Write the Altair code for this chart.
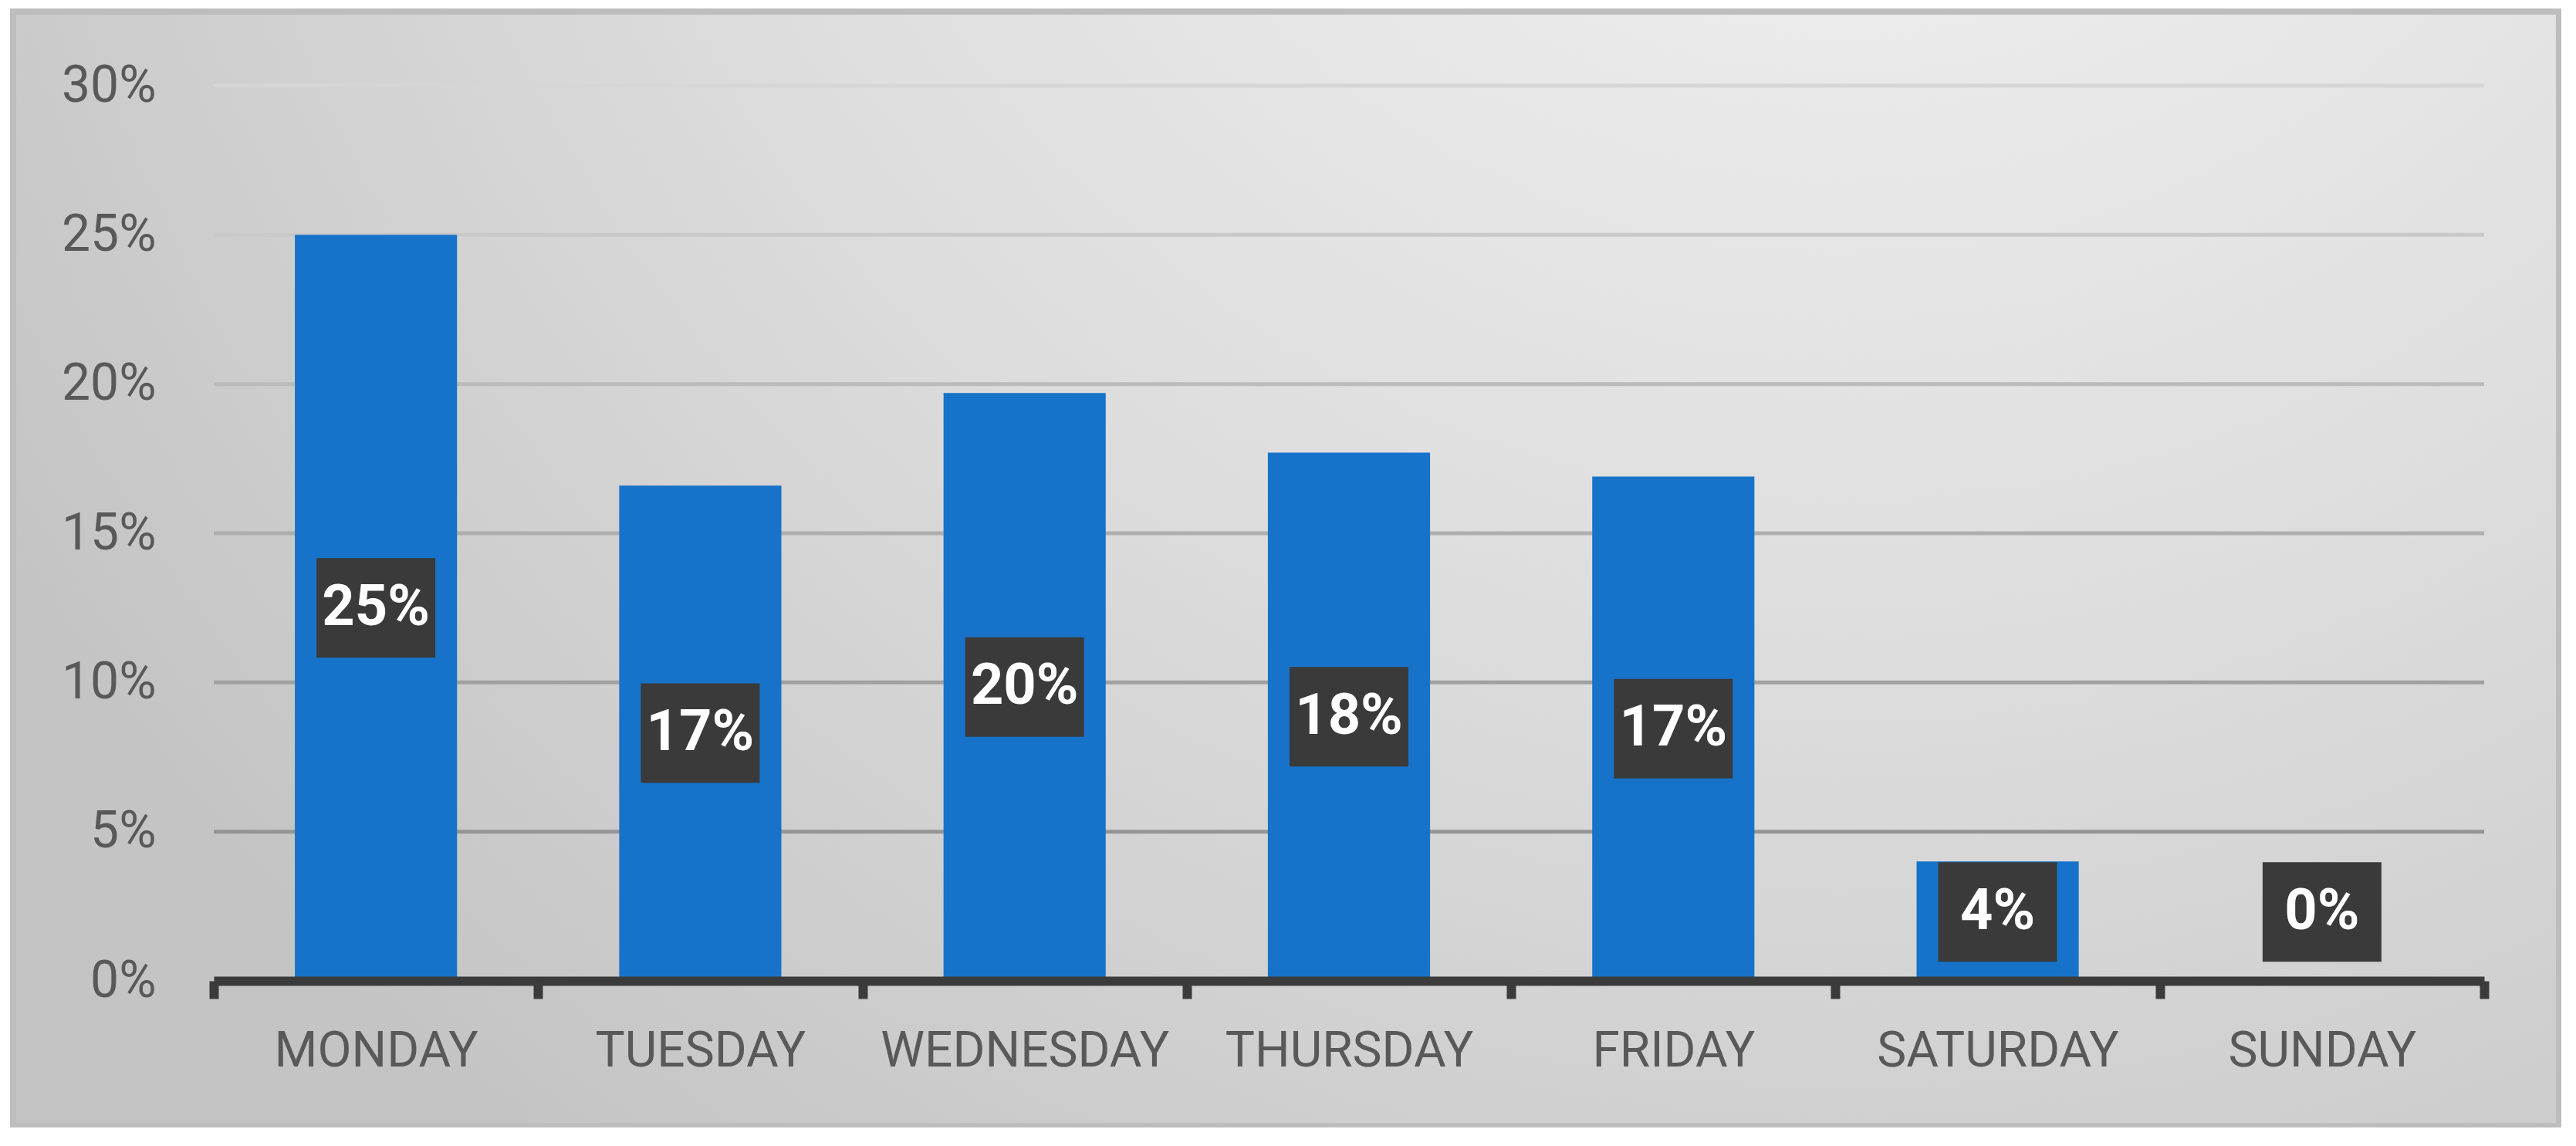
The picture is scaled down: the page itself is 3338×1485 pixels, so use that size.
import altair as alt
import pandas as pd

days = ["MONDAY", "TUESDAY", "WEDNESDAY", "THURSDAY", "FRIDAY", "SATURDAY", "SUNDAY"]
shares = [0.250, 0.166, 0.197, 0.177, 0.169, 0.040, 0.000]
tick_values = [0.0, 0.05, 0.10, 0.15, 0.20, 0.25, 0.30]

df = pd.DataFrame({"day": days, "value": shares})
grid_df = pd.DataFrame({"value": tick_values[1:]})

x_axis = alt.Axis(
    title=None, labelAngle=0, domainColor="#3b3b3b", domainWidth=12,
    tickColor="#3b3b3b", tickWidth=12, tickSize=23, tickBand="extent",
    labelFont="Roboto", labelFontSize=64, labelColor="#595959", labelLimit=0,
    labelPadding=68, labelBaseline="middle", zindex=1,
)
y_axis = alt.Axis(
    title=None, values=tick_values, format=".0%", grid=False, domain=False,
    ticks=False, labelFont="Roboto", labelFontSize=66, labelColor="#595959",
    labelPadding=75, zindex=1,
)
x_scale = alt.Scale(domain=days, paddingInner=0, paddingOuter=0)
y_scale = alt.Scale(domain=[0, 0.30])

bg = alt.Chart(alt.Data(values=[{"k": 1}])).mark_rect(
    color={
        "gradient": "radial",
        "stops": [
            {"offset": 0, "color": "#f7f7f7"},
            {"offset": 0.55, "color": "#dedede"},
            {"offset": 1, "color": "#c4c4c4"},
        ],
        "x1": 0.72, "y1": 0.05, "r1": 0,
        "x2": 0.72, "y2": 0.05, "r2": 0.85,
    },
    stroke="#bdbdbd", strokeWidth=8,
).encode(
    x=alt.value(-260), x2=alt.value(3039),
    y=alt.value(-96), y2=alt.value(1348),
)

grid = alt.Chart(grid_df).mark_rule(strokeWidth=5).encode(
    y=alt.Y("value:Q", scale=y_scale, axis=y_axis),
    color=alt.Color("value:Q", scale=alt.Scale(domain=[0, 0.30], range=["#888888", "#d6d6d6"]), legend=None),
)

bars = alt.Chart(df).mark_bar(color="#1773c9", width=alt.RelativeBandSize(0.5)).encode(
    x=alt.X("day:N", sort=days, scale=x_scale, axis=x_axis),
    y=alt.Y("value:Q", scale=y_scale, axis=y_axis),
)

lab_base = alt.Chart(df).transform_calculate(
    label_y="max(datum.value / 2, 0.0231)"
)

boxes = lab_base.mark_point(
    shape="M-1,-0.8377L1,-0.8377L1,0.8377L-1,0.8377Z",
    filled=True, fill="#3a3a3a", opacity=1, size=23716, strokeWidth=0,
).encode(
    x=alt.X("day:N", sort=days, scale=x_scale, axis=x_axis),
    y=alt.Y("label_y:Q", scale=y_scale, axis=y_axis),
)

texts = lab_base.mark_text(
    font="Roboto", fontWeight="bold", fontSize=74, color="white", baseline="middle",
).encode(
    x=alt.X("day:N", sort=days, scale=x_scale, axis=x_axis),
    y=alt.Y("label_y:Q", scale=y_scale, axis=y_axis),
    text=alt.Text("value:Q", format=".0%"),
)

chart = alt.layer(bg, grid, bars, boxes, texts).properties(
    width=2942, height=1160,
    autosize=alt.AutoSizeParams(type="none"),
    padding={"left": 269, "top": 103, "right": 100, "bottom": 190},
    background="white",
).configure_view(stroke=None)

chart.save("out.html", embed_options={"renderer": "svg", "actions": False})
